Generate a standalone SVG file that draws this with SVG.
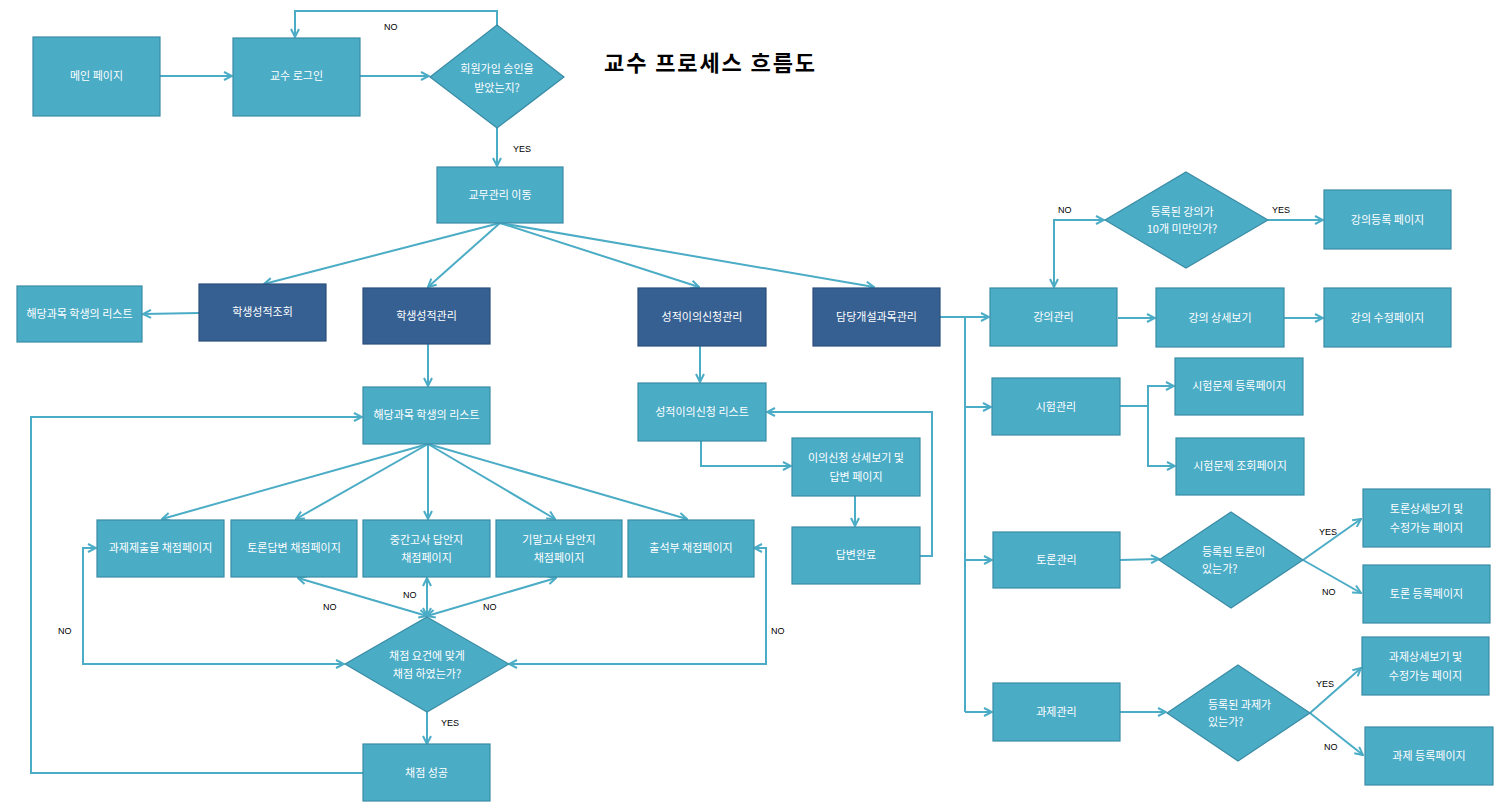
<svg xmlns="http://www.w3.org/2000/svg" width="1503" height="806" viewBox="0 0 1503 806">
<defs>
<style>
.b{fill:#4BACC6;stroke:#3A8CA5;stroke-width:1.2}
.d{fill:#366092;stroke:#2B4F7C;stroke-width:1.2}
.t{font-family:"Noto Sans CJK KR","Noto Sans",sans-serif;font-size:11px;fill:#ffffff;text-anchor:middle}
.tl{font-family:"Noto Sans CJK KR","Noto Sans",sans-serif;font-size:11px;fill:#ffffff}
.l{font-family:"Liberation Sans",Arial,sans-serif;font-size:9px;fill:#000000}
.c{fill:none;stroke:#4BACC6;stroke-width:2}
</style>
<marker id="a" viewBox="0 0 10 10" refX="9" refY="5" markerWidth="10" markerHeight="10" markerUnits="userSpaceOnUse" orient="auto-start-reverse">
<path d="M1,1 L9,5 L1,9" fill="none" stroke="#4BACC6" stroke-width="2"/>
</marker>
</defs>
<rect width="1503" height="806" fill="#ffffff"/>
<text x="604" y="71" font-family="'Noto Sans CJK KR','Noto Sans',sans-serif" font-size="22" font-weight="bold" fill="#000" textLength="211" lengthAdjust="spacing">교수 프로세스 흐름도</text>

<g id="connectors">
<path class="c" d="M160,76 L232,76" marker-end="url(#a)"/>
<path class="c" d="M360,76 L429,76" marker-end="url(#a)"/>
<path class="c" d="M497,25 L497,11 L295,11 L295,37" marker-end="url(#a)"/>
<path class="c" d="M497,128 L497,166" marker-end="url(#a)"/>
<path class="c" d="M500,223 L264,284" marker-end="url(#a)"/>
<path class="c" d="M500,223 L428,287" marker-end="url(#a)"/>
<path class="c" d="M500,223 L699,287" marker-end="url(#a)"/>
<path class="c" d="M500,223 L874,287" marker-end="url(#a)"/>
<path class="c" d="M199,313 L143,314" marker-end="url(#a)"/>
<path class="c" d="M428,344 L428,386" marker-end="url(#a)"/>
<path class="c" d="M428,444 L162,519" marker-end="url(#a)"/>
<path class="c" d="M428,444 L296,519" marker-end="url(#a)"/>
<path class="c" d="M428,444 L428,519" marker-end="url(#a)"/>
<path class="c" d="M428,444 L555,519" marker-end="url(#a)"/>
<path class="c" d="M428,444 L687,519" marker-end="url(#a)"/>
<path class="c" d="M298,578 L427,616" marker-start="url(#a)" marker-end="url(#a)"/>
<path class="c" d="M427,578 L427,616" marker-start="url(#a)" marker-end="url(#a)"/>
<path class="c" d="M556,578 L427,616" marker-start="url(#a)" marker-end="url(#a)"/>
<path class="c" d="M344,664 L83,664 L83,548 L96,548" marker-start="url(#a)" marker-end="url(#a)"/>
<path class="c" d="M509,664 L766,664 L766,548 L754,548" marker-start="url(#a)" marker-end="url(#a)"/>
<path class="c" d="M427,712 L427,744" marker-end="url(#a)"/>
<path class="c" d="M363,773 L31,773 L31,417 L362,417" marker-end="url(#a)"/>
<path class="c" d="M700,346 L700,382" marker-end="url(#a)"/>
<path class="c" d="M701,441 L701,466 L791,466" marker-end="url(#a)"/>
<path class="c" d="M855,496 L855,526" marker-end="url(#a)"/>
<path class="c" d="M920,556 L932,556 L932,412 L767,412" marker-end="url(#a)"/>
<path class="c" d="M940,317 L965,317 L965,712"/>
<path class="c" d="M965,317 L989,317" marker-end="url(#a)"/>
<path class="c" d="M965,407 L991,407" marker-end="url(#a)"/>
<path class="c" d="M965,560 L992,560" marker-end="url(#a)"/>
<path class="c" d="M965,712 L992,712" marker-end="url(#a)"/>
<path class="c" d="M1104,220 L1054,220 L1054,287" marker-start="url(#a)" marker-end="url(#a)"/>
<path class="c" d="M1268,220 L1323,220" marker-end="url(#a)"/>
<path class="c" d="M1118,318 L1155,318" marker-end="url(#a)"/>
<path class="c" d="M1284,318 L1323,318" marker-end="url(#a)"/>
<path class="c" d="M1120,406 L1148,406 L1148,386 L1174,386" marker-end="url(#a)"/>
<path class="c" d="M1148,406 L1148,466 L1175,466" marker-end="url(#a)"/>
<path class="c" d="M1120,560 L1159,559" marker-end="url(#a)"/>
<path class="c" d="M1303,560 L1361,519" marker-end="url(#a)"/>
<path class="c" d="M1303,560 L1361,593" marker-end="url(#a)"/>
<path class="c" d="M1120,712 L1166,712" marker-end="url(#a)"/>
<path class="c" d="M1310,713 L1361,668" marker-end="url(#a)"/>
<path class="c" d="M1310,713 L1363,755" marker-end="url(#a)"/>
<text class="l" x="384" y="30">NO</text>
<text class="l" x="513" y="152">YES</text>
<text class="l" x="323" y="610">NO</text>
<text class="l" x="403" y="598">NO</text>
<text class="l" x="483" y="610">NO</text>
<text class="l" x="58" y="634">NO</text>
<text class="l" x="771" y="634">NO</text>
<text class="l" x="441" y="726">YES</text>
<text class="l" x="1058" y="213">NO</text>
<text class="l" x="1272" y="213">YES</text>
<text class="l" x="1319" y="535">YES</text>
<text class="l" x="1322" y="595">NO</text>
<text class="l" x="1316" y="687">YES</text>
<text class="l" x="1324" y="750">NO</text>
</g>

<g id="n-main"><rect class="b" x="33" y="37" width="127" height="79"/><text class="t" x="96.5" y="80">메인 페이지</text></g>
<g id="n-login"><rect class="b" x="233" y="38" width="127" height="78"/><text class="t" x="296.5" y="80">교수 로그인</text></g>
<g id="n-approve"><polygon class="b" points="497,25 564,77 497,128 430,77"/><text class="t" x="497" y="73">회원가입 승인을</text><text class="t" x="497" y="92">받았는지?</text></g>
<g id="n-gomu"><rect class="b" x="437" y="167" width="126" height="56"/><text class="t" x="500" y="199">교무관리 이동</text></g>

<g id="n-list1"><rect class="b" x="17" y="286" width="125" height="56"/><text class="t" x="79.5" y="318">해당과목 학생의 리스트</text></g>
<g id="n-view"><rect class="d" x="199" y="284" width="127" height="57"/><text class="t" x="262.5" y="316">학생성적조회</text></g>
<g id="n-manage"><rect class="d" x="363" y="288" width="127" height="56"/><text class="t" x="426.5" y="320">학생성적관리</text></g>
<g id="n-objmanage"><rect class="d" x="638" y="288" width="128" height="58"/><text class="t" x="702" y="321">성적이의신청관리</text></g>
<g id="n-course"><rect class="d" x="813" y="288" width="127" height="58"/><text class="t" x="876.5" y="321">담당개설과목관리</text></g>

<g id="n-list2"><rect class="b" x="363" y="387" width="127" height="57"/><text class="t" x="426.5" y="419">해당과목 학생의 리스트</text></g>
<g id="n-hw"><rect class="b" x="97" y="520" width="127" height="57"/><text class="t" x="160.5" y="552">과제제출물 채점페이지</text></g>
<g id="n-disc"><rect class="b" x="231" y="520" width="126" height="57"/><text class="t" x="294" y="552">토론답변 채점페이지</text></g>
<g id="n-mid"><rect class="b" x="363" y="520" width="127" height="57"/><text class="t" x="426.5" y="544">중간고사 답안지</text><text class="t" x="426.5" y="562">채점페이지</text></g>
<g id="n-final"><rect class="b" x="496" y="520" width="126" height="57"/><text class="t" x="559" y="544">기말고사 답안지</text><text class="t" x="559" y="562">채점페이지</text></g>
<g id="n-att"><rect class="b" x="628" y="520" width="126" height="57"/><text class="t" x="691" y="552">출석부 채점페이지</text></g>
<g id="n-check"><polygon class="b" points="427,617 509,664 427,712 345,664"/><text class="t" x="427" y="660">채점 요건에 맞게</text><text class="t" x="427" y="678">채점 하였는가?</text></g>
<g id="n-success"><rect class="b" x="363" y="744" width="127" height="57"/><text class="t" x="426.5" y="777">채점 성공</text></g>

<g id="n-objlist"><rect class="b" x="638" y="383" width="128" height="58"/><text class="t" x="702" y="416">성적이의신청 리스트</text></g>
<g id="n-objdetail"><rect class="b" x="792" y="438" width="128" height="58"/><text class="t" x="856" y="462">이의신청 상세보기 및</text><text class="t" x="856" y="481">답변 페이지</text></g>
<g id="n-answered"><rect class="b" x="792" y="527" width="128" height="57"/><text class="t" x="856" y="559">답변완료</text></g>

<g id="n-lecq"><polygon class="b" points="1186,172 1268,220 1186,268 1105,220"/><text class="t" x="1182" y="216">등록된 강의가</text><text class="t" x="1182" y="233">10개 미만인가?</text></g>
<g id="n-lecreg"><rect class="b" x="1324" y="190" width="127" height="59"/><text class="t" x="1387.5" y="224">강의등록 페이지</text></g>
<g id="n-lec"><rect class="b" x="990" y="288" width="127" height="58"/><text class="t" x="1053.5" y="321">강의관리</text></g>
<g id="n-lecdetail"><rect class="b" x="1156" y="288" width="128" height="59"/><text class="t" x="1220" y="322">강의 상세보기</text></g>
<g id="n-lecedit"><rect class="b" x="1324" y="288" width="127" height="59"/><text class="t" x="1387.5" y="322">강의 수정페이지</text></g>
<g id="n-exam"><rect class="b" x="992" y="378" width="128" height="57"/><text class="t" x="1056" y="411">시험관리</text></g>
<g id="n-examreg"><rect class="b" x="1175" y="358" width="128" height="57"/><text class="t" x="1239" y="390">시험문제 등록페이지</text></g>
<g id="n-examview"><rect class="b" x="1176" y="438" width="128" height="57"/><text class="t" x="1240" y="470">시험문제 조회페이지</text></g>

<g id="n-dis"><rect class="b" x="993" y="532" width="127" height="56"/><text class="t" x="1056.5" y="564">토론관리</text></g>
<g id="n-disq"><polygon class="b" points="1231,512 1303,560 1231,608 1159,560"/><text class="tl" x="1202" y="556">등록된 토론이</text><text class="tl" x="1202" y="573">있는가?</text></g>
<g id="n-disdetail"><rect class="b" x="1363" y="489" width="127" height="58"/><text class="t" x="1426.5" y="513">토론상세보기 및</text><text class="t" x="1426.5" y="532">수정가능 페이지</text></g>
<g id="n-disreg"><rect class="b" x="1363" y="565" width="127" height="58"/><text class="t" x="1426.5" y="598">토론 등록페이지</text></g>

<g id="n-asg"><rect class="b" x="993" y="683" width="127" height="58"/><text class="t" x="1056.5" y="716">과제관리</text></g>
<g id="n-asgq"><polygon class="b" points="1238,665 1310,713 1238,761 1167,713"/><text class="tl" x="1208" y="709">등록된 과제가</text><text class="tl" x="1208" y="726">있는가?</text></g>
<g id="n-asgdetail"><rect class="b" x="1362" y="637" width="127" height="58"/><text class="t" x="1425.5" y="661">과제상세보기 및</text><text class="t" x="1425.5" y="680">수정가능 페이지</text></g>
<g id="n-asgreg"><rect class="b" x="1365" y="727" width="128" height="58"/><text class="t" x="1429" y="760">과제 등록페이지</text></g>
</svg>
